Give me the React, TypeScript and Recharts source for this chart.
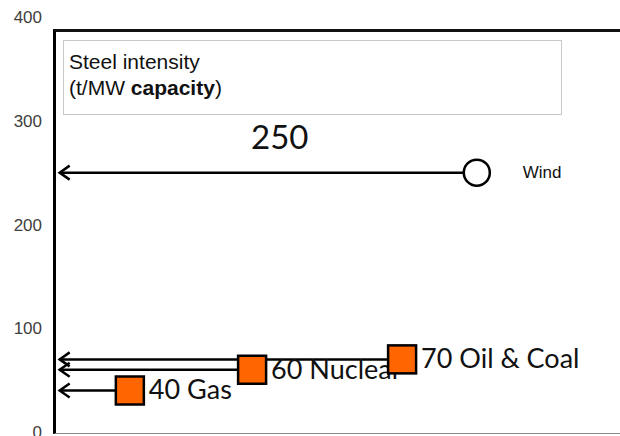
import { ComposedChart, Line, XAxis, YAxis } from 'recharts'

// steel needed per MW of installed capacity, by generation source
const sources = ['Gas', 'Nuclear', 'Oil & Coal', 'Wind']
const steelPerMW = [40, 60, 70, 250]
const sourcePos = [13.4, 35, 61.5, 74.7]
const yTicks = [0, 100, 200, 300, 400]

const ARROW_TIP = 1
const ORANGE = '#FF6600'
const labelFont = 'Lato, "Open Sans", sans-serif'
const boxFont = '"Liberation Sans", Arial, sans-serif'

// one arrow per source: from the marker back to the axis
const series = sources.map((name, i) => ({
  name,
  value: steelPerMW[i],
  data: [
    { x: ARROW_TIP, v: steelPerMW[i] },
    { x: sourcePos[i], v: steelPerMW[i] },
  ],
}))

function makeDot(name: string, value: number) {
  return (props: any) => {
    const { cx, cy, index } = props
    if (index === 0) {
      return (
        <path
          key={`tip-${name}`}
          d={`M${cx + 10},${cy - 7} L${cx},${cy} L${cx + 10},${cy + 7}`}
          fill="none"
          stroke="#000"
          strokeWidth={2.5}
        />
      )
    }
    if (name === 'Wind') {
      return (
        <g key={`mark-${name}`}>
          <circle cx={cx} cy={cy} r={13} fill="#fff" stroke="#000" strokeWidth={2.5} />
          <text x={cx - 197} y={cy - 24} textAnchor="middle" fontFamily={labelFont} fontSize={33} fill="#111">
            {value}
          </text>
          <text x={cx + 46} y={cy + 1} dominantBaseline="middle" fontFamily={boxFont} fontSize={17} fill="#111">
            {name}
          </text>
        </g>
      )
    }
    return (
      <g key={`mark-${name}`}>
        <rect x={cx - 14} y={cy - 14} width={28} height={28} fill={ORANGE} stroke="#000" strokeWidth={2.5} />
        <text x={cx + 19} y={cy + 2} dominantBaseline="middle" fontFamily={labelFont} fontSize={27} fill="#111">
          {`${value} ${name}`}
        </text>
      </g>
    )
  }
}

export default function App() {
  return (
    <div style={{ position: 'absolute', left: 0, top: 0, width: 620, height: 436, background: '#fff' }}>
      <ComposedChart width={620} height={436} margin={{ top: 17, right: 0, bottom: 4, left: 0 }}>
        <XAxis type="number" dataKey="x" domain={[0, 100]} hide allowDuplicatedCategory={false} />
        <YAxis
          type="number"
          domain={[0, 400]}
          ticks={yTicks}
          interval={0}
          width={54}
          axisLine={false}
          tickLine={false}
          tickMargin={6}
          tick={{ fontSize: 17, fill: '#404040', fontFamily: boxFont }}
        />
        {series.map((s) => (
          <Line
            key={s.name}
            data={s.data}
            dataKey="v"
            name={s.name}
            stroke="#000"
            strokeWidth={2.5}
            dot={makeDot(s.name, s.value)}
            activeDot={false}
            isAnimationActive={false}
          />
        ))}
      </ComposedChart>

      {/* plot frame */}
      <div
        style={{
          position: 'absolute',
          left: 53,
          top: 29,
          width: 567,
          height: 405,
          borderLeft: '3px solid #000',
          borderTop: '3px solid #111',
          borderBottom: '1.5px solid #888',
          boxSizing: 'border-box',
          pointerEvents: 'none',
        }}
      />

      {/* title box */}
      <div
        style={{
          position: 'absolute',
          left: 63,
          top: 40,
          width: 499,
          height: 75,
          border: '1px solid #c8c8c8',
          boxSizing: 'border-box',
          padding: '8px 0 0 5px',
          fontFamily: boxFont,
          fontSize: 21,
          lineHeight: '26px',
          color: '#111',
        }}
      >
        <div>Steel intensity</div>
        <div>
          (t/MW <b>capacity</b>)
        </div>
      </div>
    </div>
  )
}
